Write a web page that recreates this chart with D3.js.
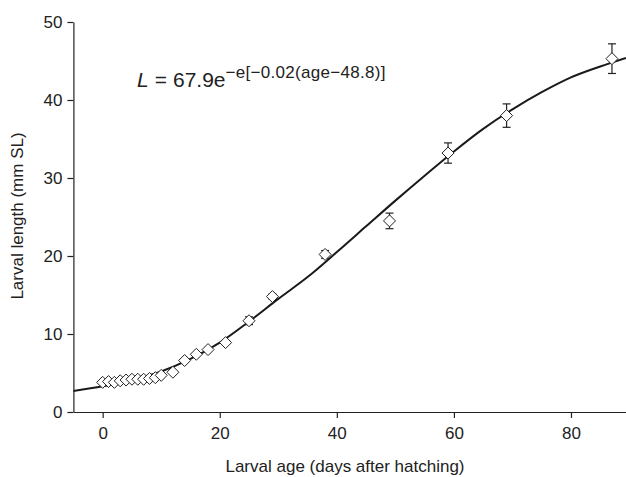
<!DOCTYPE html>
<html lang="en">
<head>
<meta charset="UTF-8">
<script src="https://cdn.jsdelivr.net/npm/d3@7"></script>
<style>
  body { margin: 0; background: #fff; }
  svg { display: block; font-family: "Liberation Sans", Arial, sans-serif; }
  .axis text { font-size: 17px; fill: #222; }
  .axis path, .axis line { stroke: #222; stroke-width: 1.2px; }
</style>
</head>
<body>
<script>
// observed larval lengths (mean, error)
const ages    = [0, 1, 2, 3, 4, 5, 6, 7, 8, 9, 10, 12, 14, 16, 18, 21, 25, 29, 38, 49, 59, 69, 87];
const lengths = [3.8, 3.9, 3.8, 4.0, 4.1, 4.2, 4.2, 4.2, 4.3, 4.4, 4.7, 5.1, 6.6, 7.4, 8.0, 8.9, 11.7, 14.8, 20.2, 24.5, 33.2, 38.0, 45.3];
const errs    = [0, 0, 0, 0, 0, 0, 0, 0, 0, 0, 0, 0, 0, 0, 0, 0, 0.5, 0.3, 0.5, 1.0, 1.3, 1.5, 1.9];

// fitted growth curve
const fitAge = [-5, 0, 5, 10, 15, 20, 25, 30, 35, 40, 45, 50, 55, 60, 65, 70, 75, 80, 85, 89.4];
const fitLen = [2.7, 3.3, 4.1, 5.2, 6.8, 8.9, 11.6, 14.5, 17.3, 20.5, 23.8, 27.1, 30.3, 33.4, 36.3, 38.8, 41.0, 42.9, 44.3, 45.4];

const xTicks = [0, 20, 40, 60, 80];
const yTicks = [0, 10, 20, 30, 40, 50];

const W = 626, H = 477;
const svg = d3.select("body").append("svg")
    .attr("width", W)
    .attr("height", H);

const x = d3.scaleLinear().domain([-5, 89.4]).range([73.4, 626]);
const y = d3.scaleLinear().domain([0, 50]).range([412, 22]);

// axes
svg.append("g")
    .attr("class", "axis")
    .attr("transform", `translate(0,${y(0)})`)
    .call(d3.axisBottom(x).tickValues(xTicks).tickSize(6).tickSizeOuter(0).tickPadding(7))
    .call(g => g.selectAll("text").attr("dy", "0.85em"));

svg.append("g")
    .attr("class", "axis")
    .attr("transform", `translate(${x(-5)},0)`)
    .call(d3.axisLeft(y).tickValues(yTicks).tickSize(6).tickSizeOuter(0).tickPadding(5));

// axis titles
svg.append("text")
    .attr("x", 345).attr("y", 472)
    .attr("text-anchor", "middle")
    .style("font-size", "17px").style("fill", "#222")
    .text("Larval age (days after hatching)");

svg.append("text")
    .attr("transform", "translate(23,216) rotate(-90)")
    .attr("text-anchor", "middle")
    .style("font-size", "17px").style("fill", "#222")
    .text("Larval length (mm SL)");

// fitted curve
const line = d3.line()
    .x((d, i) => x(fitAge[i]))
    .y(d => y(d))
    .curve(d3.curveCatmullRom.alpha(0.5));

svg.append("path")
    .datum(fitLen)
    .attr("d", line)
    .attr("fill", "none")
    .attr("stroke", "#1a1a1a")
    .attr("stroke-width", 2);

// error bars
const pts = ages.map((a, i) => ({ age: a, len: lengths[i], err: errs[i] }));
const bars = svg.append("g").attr("stroke", "#222").attr("stroke-width", 1.2);
pts.filter(d => d.err > 0).forEach(d => {
    const cx = x(d.age);
    bars.append("line").attr("x1", cx).attr("x2", cx)
        .attr("y1", y(d.len + d.err)).attr("y2", y(d.len - d.err));
    [d.len + d.err, d.len - d.err].forEach(v => {
        bars.append("line").attr("x1", cx - 4).attr("x2", cx + 4)
            .attr("y1", y(v)).attr("y2", y(v));
    });
});

// diamonds
svg.append("g").selectAll("path")
    .data(pts)
    .enter()
    .append("path")
    .attr("transform", d => `translate(${x(d.age)},${y(d.len)})`)
    .attr("d", "M0,-6L6,0L0,6L-6,0Z")
    .attr("fill", "#fff")
    .attr("stroke", "#222")
    .attr("stroke-width", 1);

// equation
const eq = svg.append("text")
    .attr("x", 137).attr("y", 87)
    .style("font-size", "21px").style("fill", "#222");
eq.append("tspan").style("font-style", "italic").text("L");
eq.append("tspan").attr("dx", 6).text("=");
eq.append("tspan").attr("dx", 6).text("67.9e");
eq.append("tspan")
    .attr("dy", -9)
    .style("font-size", "17px")
    .style("letter-spacing", "0.3px")
    .text("\u2212e[\u22120.02(age\u221248.8)]");
</script>
</body>
</html>
